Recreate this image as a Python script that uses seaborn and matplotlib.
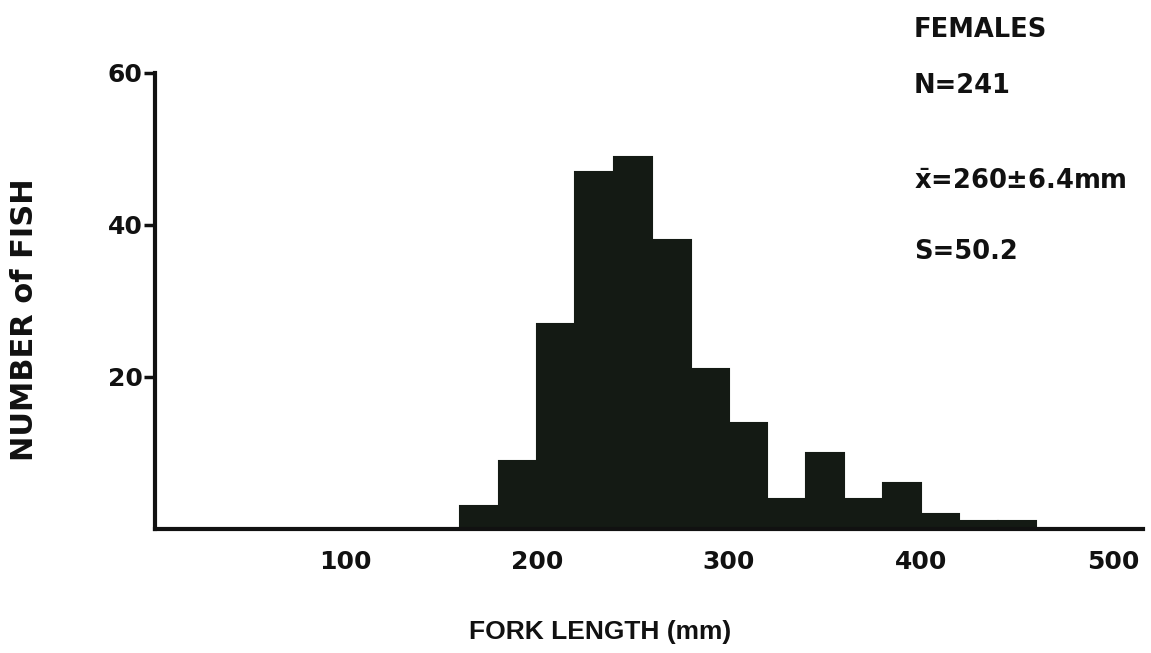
import matplotlib
matplotlib.use("Agg")
import matplotlib.pyplot as plt
import seaborn as sns
import numpy as np

# Data: 20 mm bins of fork length, counts of female fish
bin_edges = [160, 180, 200, 220, 240, 260, 280, 300, 320, 340, 360, 380, 400, 420, 440, 460]
counts = [3, 9, 27, 47, 49, 38, 21, 14, 4, 10, 4, 6, 2, 1, 1]
x_ticks = [100, 200, 300, 400, 500]
y_ticks = [20, 40, 60]
stats_lines = ["FEMALES", "N=241", r"$\bar{\mathbf{x}}$=260±6.4mm", "S=50.2"]

sns.set_theme(style="white")
plt.rcParams['font.family'] = ['DejaVu Sans']
plt.rcParams['font.weight'] = 'bold'
plt.rcParams['mathtext.fontset'] = 'dejavusans'
plt.rcParams['mathtext.default'] = 'bf'

INK = '#111111'
W, H = 1151, 653
fig = plt.figure(figsize=(W/100, H/100), dpi=100)
# pixel mapping: x_px = a + b * mm
a, b = 153.0, 1.92
left_px, right_px = 155, 1143
y0_px, y60_px = 529, 73
xmin = (left_px - a) / b
xmax = (right_px - a) / b
ax = fig.add_axes([left_px/W, 1-y0_px/H, (right_px-left_px)/W, (y0_px-y60_px)/H])

centers = [(p + q) / 2 for p, q in zip(bin_edges[:-1], bin_edges[1:])]
sns.histplot(x=centers, weights=counts, bins=bin_edges, color="#141a14",
             alpha=1, edgecolor="#141a14", linewidth=1.5, ax=ax)

ax.set_xlim(xmin, xmax)
ax.set_ylim(0, 60)
ax.set_xticks(x_ticks)
ax.set_xticklabels([str(t) for t in x_ticks], fontsize=18, fontweight='bold')
ax.set_yticks(y_ticks)
ax.set_yticklabels([str(t) for t in y_ticks], fontsize=18, fontweight='bold')
ax.tick_params(axis='x', length=0, pad=15, colors=INK)
ax.tick_params(axis='y', length=8, width=2.5, pad=1, direction='out', colors=INK, left=True)
for s in ['top', 'right']:
    ax.spines[s].set_visible(False)
for s in ['left', 'bottom']:
    ax.spines[s].set_linewidth(3)
    ax.spines[s].set_color(INK)

ax.set_xlabel("")
ax.set_ylabel("")
fig.text(600/W, 1-632/H, "FORK LENGTH (mm)", fontsize=19, fontweight='bold',
         family=['Liberation Sans', 'DejaVu Sans'], ha='center', va='center', color=INK)
fig.text(25/W, 1-320/H, "NUMBER of FISH", fontsize=22, fontweight='bold', rotation=90,
         ha='center', va='center', color=INK)

ys = [30, 86, 182, 252]
for txt, y in zip(stats_lines, ys):
    fig.text(914/W, 1 - y/H, txt, fontsize=18.5, fontweight='bold', va='center', ha='left', color=INK)

fig.savefig("out.png", dpi=100, facecolor='white')
